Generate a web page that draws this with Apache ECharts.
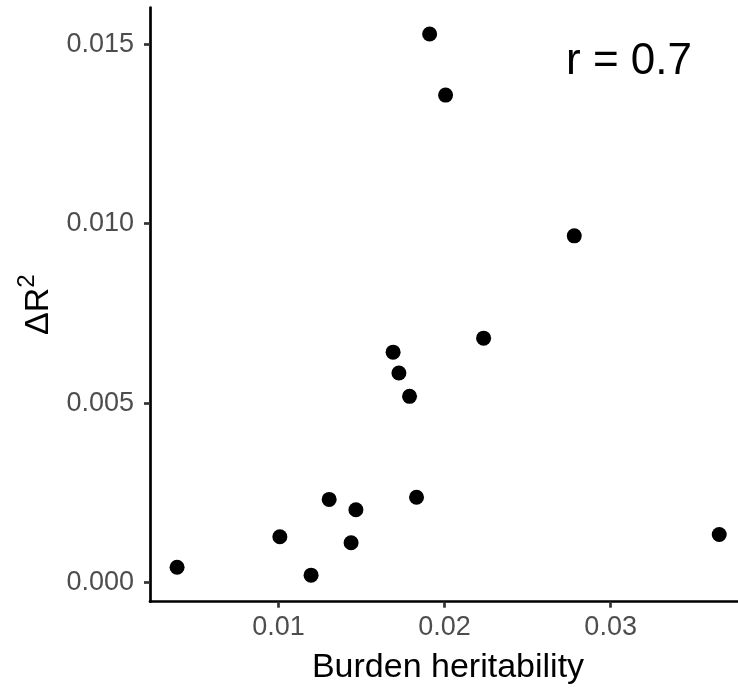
<!DOCTYPE html>
<html>
<head>
<meta charset="utf-8">
<script src="https://cdn.jsdelivr.net/npm/echarts@6/dist/echarts.min.js"></script>
<style>html,body{margin:0;padding:0;background:#fff}#c{width:738px;height:690px}</style>
</head>
<body>
<div id="c"></div>
<script>
// Data
const burdenHeritability = [0.00389, 0.01008, 0.01196, 0.01305, 0.01437, 0.01466, 0.01831, 0.01690, 0.01725, 0.01789, 0.02235, 0.01910, 0.02006, 0.02781, 0.03654];
const deltaR2 = [0.00043, 0.00128, 0.00021, 0.00232, 0.00111, 0.00203, 0.00238, 0.00642, 0.00584, 0.00519, 0.00681, 0.01528, 0.01358, 0.00966, 0.00134];
const xTickValues = [0.01, 0.02, 0.03];
const yTickValues = [0.000, 0.005, 0.010, 0.015];
const xTitle = 'Burden heritability';
const annotationText = 'r = 0.7';

const points = burdenHeritability.map((x, i) => [x, deltaR2[i]]);
const font = '"Liberation Sans", Arial, Helvetica, sans-serif';

const chart = echarts.init(document.getElementById('c'), null, {renderer: 'canvas'});
chart.setOption({
  animation: false,
  backgroundColor: '#ffffff',
  grid: {left: 150, top: 7.5, right: 0, bottom: 88.3, containLabel: false},
  xAxis: {
    type: 'value',
    min: 0.00226,
    max: 0.03767,
    name: xTitle,
    nameLocation: 'middle',
    nameGap: 49,
    nameTextStyle: {fontFamily: font, fontSize: 34, color: '#000', padding: [0, 0, 0, 8]},
    axisLine: {show: true, onZero: false, lineStyle: {color: '#000', width: 2.7}},
    axisTick: {show: true, length: 6, customValues: xTickValues, lineStyle: {color: '#333', width: 2.7}},
    axisLabel: {show: true, customValues: xTickValues, margin: 12, fontFamily: font, fontSize: 27, color: '#4D4D4D',
      formatter: v => v.toFixed(2)},
    splitLine: {show: false}
  },
  yAxis: {
    type: 'value',
    min: -0.00053,
    max: 0.01602,
    name: '{m|ΔR}{s|2}',
    nameLocation: 'middle',
    nameGap: 94,
    nameRotate: 90,
    nameTextStyle: {
      fontFamily: font, fontSize: 34, color: '#000',
      rich: {
        m: {fontFamily: font, fontSize: 34, color: '#000', verticalAlign: 'bottom'},
        s: {fontFamily: font, fontSize: 24, color: '#000', verticalAlign: 'bottom', padding: [0, 0, 16, 0]}
      }
    },
    axisLine: {show: true, onZero: false, lineStyle: {color: '#000', width: 2.7}},
    axisTick: {show: true, length: 6, customValues: yTickValues, lineStyle: {color: '#333', width: 2.7}},
    axisLabel: {show: true, customValues: yTickValues, margin: 16, fontFamily: font, fontSize: 27, color: '#4D4D4D',
      formatter: v => v.toFixed(3)},
    splitLine: {show: false}
  },
  graphic: [{
    type: 'text',
    x: 629, y: 62,
    style: {text: annotationText, font: '44px ' + font, fill: '#000', textAlign: 'center', textVerticalAlign: 'middle'}
  }],
  series: [{
    type: 'scatter',
    data: points,
    symbol: 'circle',
    symbolSize: 15,
    itemStyle: {color: '#000', opacity: 1},
    emphasis: {disabled: true}
  }]
});
</script>
</body>
</html>
